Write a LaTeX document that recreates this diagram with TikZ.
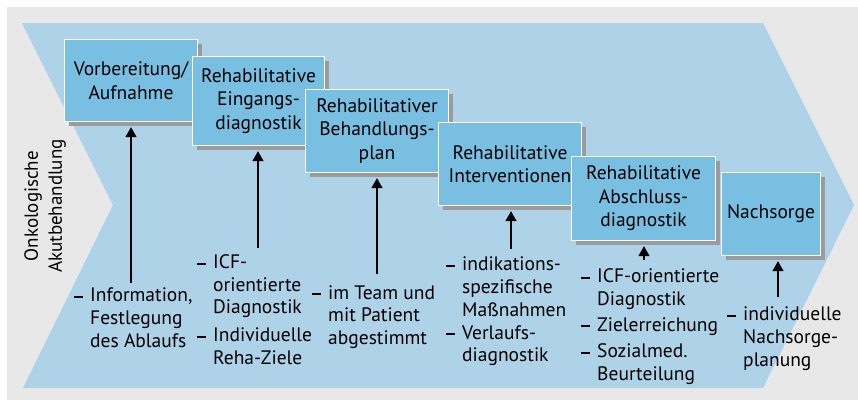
\documentclass[tikz,border=0pt]{standalone}
\usepackage{fontspec}
\setmainfont{PT Sans}
\usetikzlibrary{arrows.meta,shadows}
\definecolor{bggrey}{HTML}{E8E8E8}
\definecolor{chev}{HTML}{AED3E8}
\definecolor{boxc}{HTML}{78BFE2}
\definecolor{shad}{HTML}{9B9B9B}
\begin{document}
\begin{tikzpicture}[x=1pt,y=-1pt,
  font=\fontsize{19.5}{22.7}\selectfont,
  stagebox/.style={draw=white, line width=1.3pt, fill=boxc, align=center, inner sep=0pt,
    font=\fontsize{19.5}{23.5}\selectfont,
    drop shadow={shadow xshift=4pt, shadow yshift=-4pt, fill=shad, opacity=1}},
  arr/.style={line width=1.3pt, -{Triangle[width=11pt,length=10pt]}},
  listtxt/.style={anchor=north west, align=left, inner sep=0pt},
]
\useasboundingbox (0,0) rectangle (858,400);
\fill[white] (0,0) rectangle (858,400);
\fill[bggrey] (7,7) rectangle (858,400);
\fill[chev] (22,23) -- (763,23) -- (854,205) -- (763,388) -- (23,388) -- (113,205) -- cycle;

\node[rotate=90, align=center, font=\fontsize{19}{24}\selectfont] (onko) at (45,206) {Onkologische\\Akutbehandlung};

\node[stagebox, minimum width=133pt, minimum height=82pt] (b1) at (131,80.5) {Vorbereitung/\\Aufnahme};
\node[stagebox, minimum width=132pt, minimum height=89pt] (b2) at (258.5,101) {Rehabilitative\\Eingangs-\\diagnostik};
\node[stagebox, minimum width=143pt, minimum height=83pt] (b3) at (377,131) {Rehabilitativer\\Behandlungs-\\plan};
\node[stagebox, minimum width=143pt, minimum height=83pt] (b4) at (510,164) {Rehabilitative\\Interventionen};
\node[stagebox, minimum width=144pt, minimum height=84pt] (b5) at (643.5,198.5) {Rehabilitative\\Abschluss-\\diagnostik};
\node[stagebox, minimum width=99pt, minimum height=83pt] (b6) at (771,214) {Nachsorge};

\newcommand{\dsh}{\llap{\rule[4pt]{9pt}{2pt}\hspace{7pt}}}
\newcommand{\fst}{\rule{0pt}{16pt}}

\node[listtxt] (l1) at (90,301.7-16) {\fst\dsh Information,\\Festlegung\\des Ablaufs};
\node[listtxt] (l2) at (213,268.3-16) {\fst\dsh ICF-\\orientierte\\Diagnostik\\[5pt]\dsh Individuelle\\Reha-Ziele};
\node[listtxt] (l3) at (328,299-16) {\fst\dsh im Team und\\mit Patient\\abgestimmt};
\node[listtxt] (l4) at (462,270.7-16) {\fst\dsh indikations-\\spezifische\\Maßnahmen\\\dsh Verlaufs-\\diagnostik};
\node[listtxt] (l5) at (597,282.3-16) {\fst\dsh ICF-orientierte\\Diagnostik\\[3.5pt]\dsh Zielerreichung\\[3.5pt]\dsh Sozialmed.\\Beurteilung};
\node[listtxt] (l6) at (743,320.7-16) {\fst\dsh individuelle\\Nachsorge-\\planung};

\coordinate (a1) at (131,283);
\coordinate (a2) at (258,248);
\coordinate (a3) at (377,274);
\coordinate (a4) at (511,249);
\coordinate (a5) at (644,260);
\coordinate (a6) at (778,297);
\foreach \i in {1,...,6}{
  \coordinate (t\i) at ([yshift=-5pt]b\i.south);
  \draw[arr] (a\i) -- (a\i |- t\i);
}
\end{tikzpicture}
\end{document}
